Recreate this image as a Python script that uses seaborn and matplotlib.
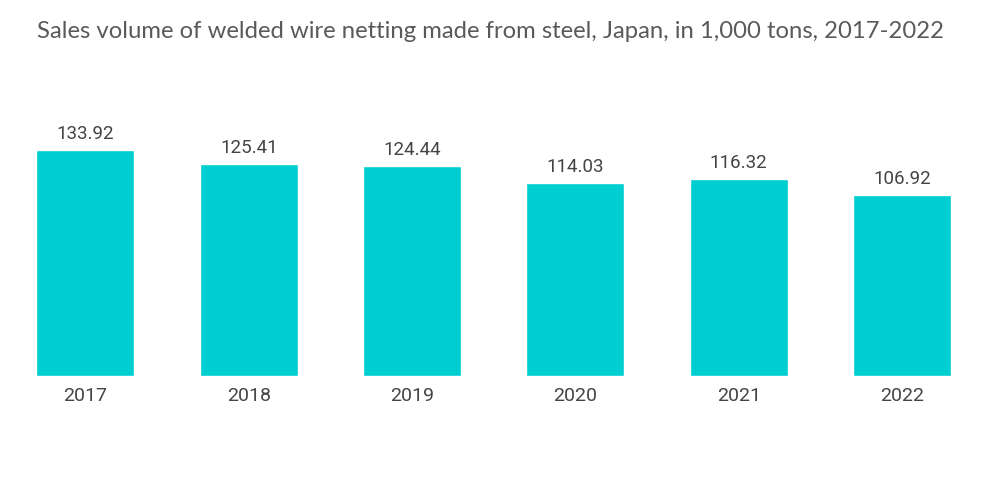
import matplotlib
matplotlib.use("Agg")
import matplotlib.pyplot as plt
import seaborn as sns
import pandas as pd

years = ["2017", "2018", "2019", "2020", "2021", "2022"]
values = [133.92, 125.41, 124.44, 114.03, 116.32, 106.92]
labels = ["133.92", "125.41", "124.44", "114.03", "116.32", "106.92"]

sns.set_style("white")
plt.rcParams['font.family'] = ['Roboto', 'DejaVu Sans']

df = pd.DataFrame({"year": years, "value": values})

fig = plt.figure(figsize=(10, 5.04), dpi=100)
ax = fig.add_axes([0.0038, 0.254, 0.98, 0.55])
sns.barplot(data=df, x="year", y="value", color="#00CED1", saturation=1, width=0.6, ax=ax)

ax.set_ylim(0, 0.55 * 504 / 1.69)
for p, lab in zip(ax.patches, labels):
    ax.annotate(lab, (p.get_x() + p.get_width() / 2, p.get_height()),
                xytext=(0, 5), textcoords="offset points", ha="center", va="bottom",
                fontsize=13.5, color="#444444")

ax.set_xlabel("")
ax.set_ylabel("")
ax.set_yticks([])
ax.tick_params(axis="x", length=0, labelsize=14, labelcolor="#444444", pad=8)
for s in ax.spines.values():
    s.set_visible(False)

fig.text(0.037, 0.937, "Sales volume of welded wire netting made from steel, Japan, in 1,000 tons, 2017-2022",
         fontsize=17.2, color="#5a5a5a", family="Lato", ha="left", va="center")

fig.savefig("out.png", dpi=100)
